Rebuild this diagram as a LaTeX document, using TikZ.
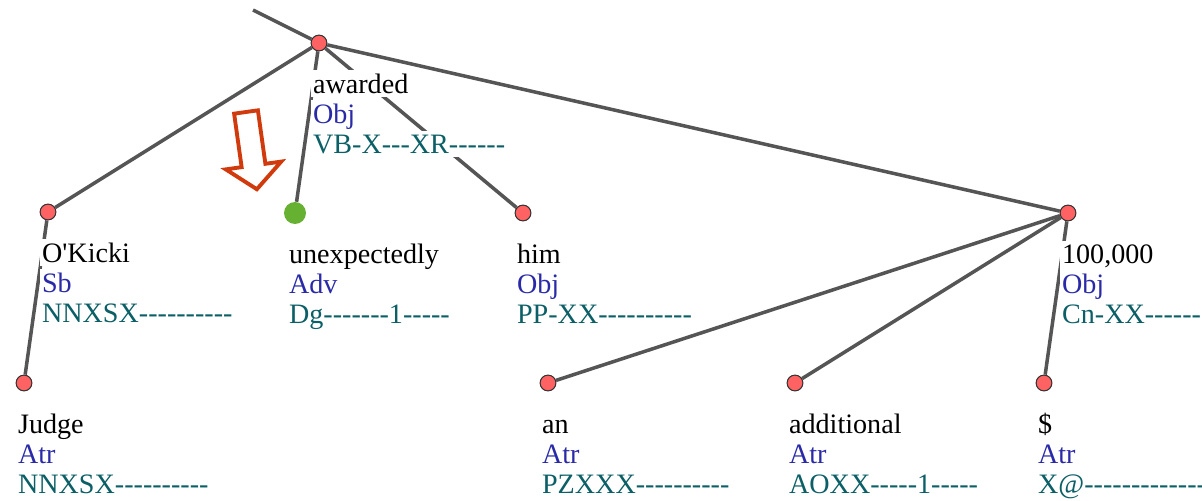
\documentclass[tikz,border=0pt]{standalone}
\usepackage{fontspec}
\setmainfont{Liberation Serif}[Ligatures=TeXOff]
\definecolor{nodered}{HTML}{FF6262}
\definecolor{nodegreen}{HTML}{66B032}
\definecolor{edgegray}{HTML}{555555}
\definecolor{afunblue}{HTML}{2A2AA8}
\definecolor{tagteal}{HTML}{0B5F66}
\definecolor{arrowred}{HTML}{D03A0C}

\begin{document}
\begin{tikzpicture}[x=0.02cm,y=-0.02cm,
        tok/.style={circle,draw=black!80,fill=nodered,line width=0.6pt,inner sep=0pt,minimum size=9pt},
        hl/.style={circle,fill=nodegreen,inner sep=0pt,minimum size=12.5pt},
        dep/.style={edgegray,line width=2pt},
        lbl/.style={anchor=base west,fill=white,inner xsep=1pt,inner ysep=2pt,font=\fontsize{16}{18}\selectfont}]
        \def\frame{(0,0) rectangle (1202,500)}
        \useasboundingbox \frame;
        \clip \frame;
        % word, function and tag under a token
        \def\lab#1#2#3#4{
            \node[lbl,text=black] (#1-w) at ([shift={(-8,50)}]#1) {#2};
            \node[lbl,text=afunblue] (#1-f) at ([shift={(-8,80)}]#1) {#3};
            \node[lbl,text=tagteal] (#1-t) at ([shift={(-8,110)}]#1) {#4};
        }
        \coordinate (up) at (253,10);
        \node[tok] (awarded) at (319,43) {};
        \node[tok] (okicki) at (48,212) {};
        \node[hl] (unexp) at (295,213) {};
        \node[tok] (him) at (523,213) {};
        \node[tok] (amount) at (1068,213) {};
        \node[tok] (judge) at (24,383) {};
        \node[tok] (an) at (548,383) {};
        \node[tok] (addit) at (795,383) {};
        \node[tok] (dollar) at (1044,383) {};
        % dependencies
        \draw[dep] (up) -- (awarded);
        \draw[dep] (awarded) -- (okicki);
        \draw[dep] (awarded) -- (unexp);
        \draw[dep] (awarded) -- (him);
        \draw[dep] (awarded) -- (amount);
        \draw[dep] (okicki) -- (judge);
        \draw[dep] (amount) -- (an);
        \draw[dep] (amount) -- (addit);
        \draw[dep] (amount) -- (dollar);
        \lab{awarded}{awarded}{Obj}{VB-X---XR------}
        \lab{okicki}{O'Kicki}{Sb}{NNXSX----------}
        \lab{unexp}{unexpectedly}{Adv}{Dg-------1-----}
        \lab{him}{him}{Obj}{PP-XX----------}
        \lab{amount}{100,000}{Obj}{Cn-XX----------}
        \lab{judge}{Judge}{Atr}{NNXSX----------}
        \lab{an}{an}{Atr}{PZXXX----------}
        \lab{addit}{additional}{Atr}{AOXX-----1-----}
        \lab{dollar}{\$}{Atr}{X@-------------}
        % hollow pointer
        \begin{scope}[shift={(246,112)},rotate=8]
            \draw[arrowred,fill=white,line width=2.2pt,line join=miter]
                (-12,0) -- (12,0) -- (12,54) -- (28,54) -- (0,78) -- (-28,54) -- (-12,54) -- cycle;
        \end{scope}
\end{tikzpicture}
\end{document}
